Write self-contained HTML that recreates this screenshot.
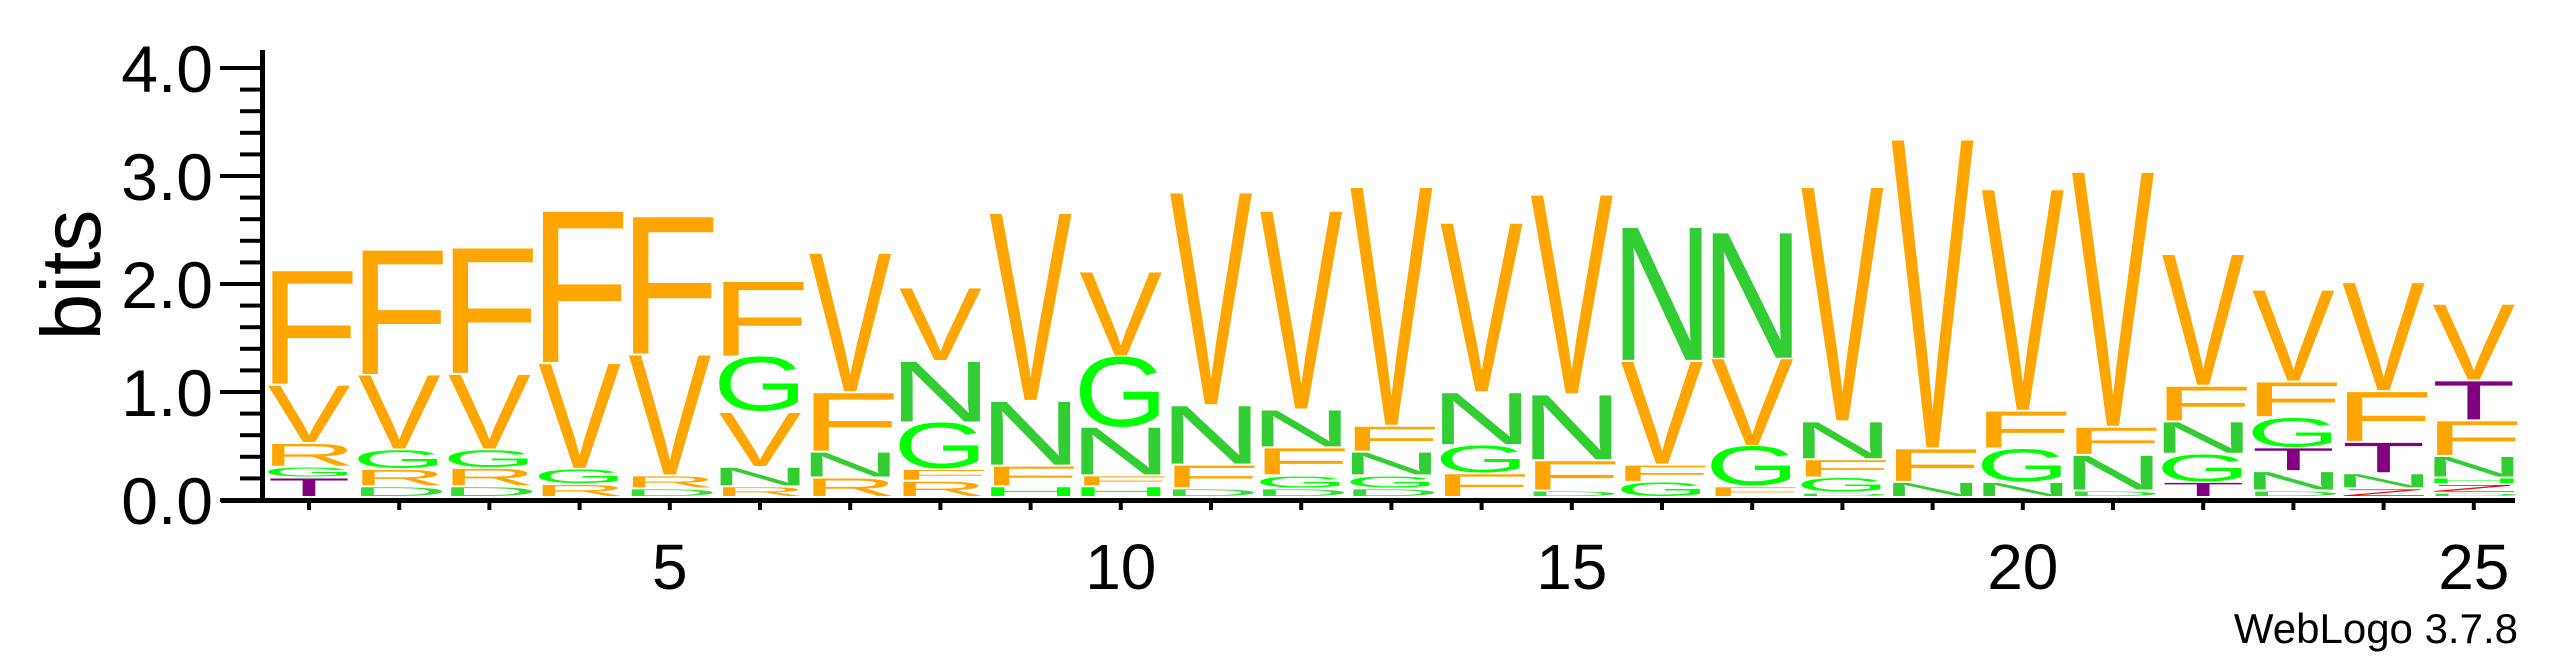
<!DOCTYPE html>
<html><head><meta charset="utf-8"><style>
html,body{margin:0;padding:0;background:#fff;}
svg{display:block;font-family:"Liberation Sans",Arial,sans-serif;}
</style></head><body>
<svg id="logo" width="2567" height="667" viewBox="0 0 2567 667" xmlns="http://www.w3.org/2000/svg">
<g id="axes"></g>
<g id="stacks"></g>
<text transform="translate(100,275) rotate(-90)" text-anchor="middle" font-size="84" fill="#000">bits</text>
<text x="2518" y="643" text-anchor="end" font-size="42" fill="#000">WebLogo 3.7.8</text>
</svg>
<script>
const positions = [1,2,3,4,5,6,7,8,9,10,11,12,13,14,15,16,17,18,19,20,21,22,23,24,25];
const letters = [
 ["T","G","R","V","F"],
 ["D","R","G","V","F"],
 ["D","R","G","V","F"],
 ["R","G","V","F"],
 ["D","R","V","F"],
 ["R","N","V","G","F"],
 ["R","N","F","V"],
 ["R","F","G","N","V"],
 ["H","F","N","V"],
 ["H","F","N","G","V"],
 ["D","F","N","V"],
 ["D","G","F","N","V"],
 ["D","G","N","F","V"],
 ["F","G","N","V"],
 ["D","F","N","V"],
 ["G","F","V","N"],
 ["F","G","V","N"],
 ["D","G","F","N","V"],
 ["N","F","V"],
 ["N","G","F","V"],
 ["D","N","F","V"],
 ["T","G","N","F","V"],
 ["D","N","T","G","F","V"],
 ["Z","N","T","F","V"],
 ["D","Z","H","N","F","T","V"]
];
const heights = [
 [0.18,0.10,0.22,0.54,1.06],
 [0.10,0.16,0.18,0.69,1.16],
 [0.10,0.17,0.17,0.70,1.17],
 [0.12,0.14,0.98,1.41],
 [0.08,0.12,1.12,1.28],
 [0.10,0.18,0.51,0.51,0.70],
 [0.18,0.24,0.55,1.29],
 [0.15,0.11,0.43,0.57,0.68],
 [0.10,0.19,0.60,1.74],
 [0.10,0.10,0.45,0.65,0.79],
 [0.08,0.22,0.55,1.97],
 [0.08,0.12,0.26,0.35,1.84],
 [0.08,0.12,0.22,0.24,2.21],
 [0.22,0.26,0.49,1.57],
 [0.06,0.28,0.61,1.85],
 [0.14,0.16,0.96,1.24],
 [0.10,0.37,0.81,1.17],
 [0.04,0.14,0.17,0.35,2.17],
 [0.14,0.31,2.86],
 [0.14,0.31,0.35,2.05],
 [0.06,0.33,0.26,2.36],
 [0.14,0.26,0.30,0.33,1.22],
 [0.06,0.18,0.22,0.28,0.33,0.85],
 [0.08,0.14,0.29,0.47,1.01],
 [0.04,0.08,0.06,0.20,0.33,0.37,0.71]
];
const yTicks = [0,1,2,3,4];
const yTickLabels = ["0.0","1.0","2.0","3.0","4.0"];
const xLabelPositions = [5,10,15,20,25];

const NS = "http://www.w3.org/2000/svg";
const BASE = 497, TICK0 = 500, BITPX = 108, X1 = 309, XSTEP = 90.2, COLW = 82;
function xScale(p){ return X1 + (p-1)*XSTEP; }
function yScale(b){ return TICK0 - b*BITPX; }
const colors = {F:"#FFA500",V:"#FFA500",R:"#FFA500",A:"#FFA500",G:"#00FF00",H:"#00FF00",D:"#33DD33",N:"#32CD32",T:"#800080",Z:"#FF0000",I:"#FF0000"};
const inkW = {F:50,V:66,R:62,A:66,G:68,H:58,D:60,N:58,T:60,Z:56,I:10};
const CAP = 68.8;

const axes = document.getElementById("axes");
function rect(x,y,w,h,name){
  const r = document.createElementNS(NS,"rect");
  r.setAttribute("x",x); r.setAttribute("y",y); r.setAttribute("width",w); r.setAttribute("height",h);
  r.setAttribute("fill","#000");
  
  
  axes.appendChild(r); return r;
}
rect(260,50,5,452,"y-axis-line");
rect(221,498,2294,5,"x-axis-line");
for(let k=0;k<=20;k++){
  const b = k*0.2, y = yScale(b);
  const major = (k%5===0);
  rect(major?220:240, y-2, major?42:22, 4, "y-tick");
}
yTicks.forEach((v,i)=>{
  const t = document.createElementNS(NS,"text");
  t.setAttribute("x",213); t.setAttribute("y",yScale(v)+24);
  t.setAttribute("text-anchor","end"); t.setAttribute("font-size","66");
  t.textContent = yTickLabels[i];
  
  
  axes.appendChild(t);
});
positions.forEach(p=>{ rect(xScale(p)-2,502,4,8,"x-tick"); });
xLabelPositions.forEach(p=>{
  const t = document.createElementNS(NS,"text");
  t.setAttribute("x",xScale(p)); t.setAttribute("y",589);
  t.setAttribute("text-anchor","middle"); t.setAttribute("font-size","64");
  t.textContent = String(p);
  
  
  axes.appendChild(t);
});

const stacks = document.getElementById("stacks");
positions.forEach((p,i)=>{
  const g = document.createElementNS(NS,"g");
  
  
  stacks.appendChild(g);
  let cum = 0;
  const cx = xScale(p);
  letters[i].forEach((L,j)=>{
    const h = heights[i][j];
    const bottom = BASE - cum*BITPX;
    cum += h;
    const hpx = Math.max(h*BITPX - 2, 0.8);
    const sx = COLW / inkW[L];
    const sy = hpx / CAP;
    const t = document.createElementNS(NS,"text");
    t.setAttribute("font-size","100");
    t.setAttribute("text-anchor","middle");
    t.setAttribute("fill", colors[L]);
    t.setAttribute("transform","translate("+cx+","+(bottom-1)+") scale("+sx+","+sy+")");
    t.textContent = L;
    
    
    g.appendChild(t);
  });
});
</script>
</body></html>
